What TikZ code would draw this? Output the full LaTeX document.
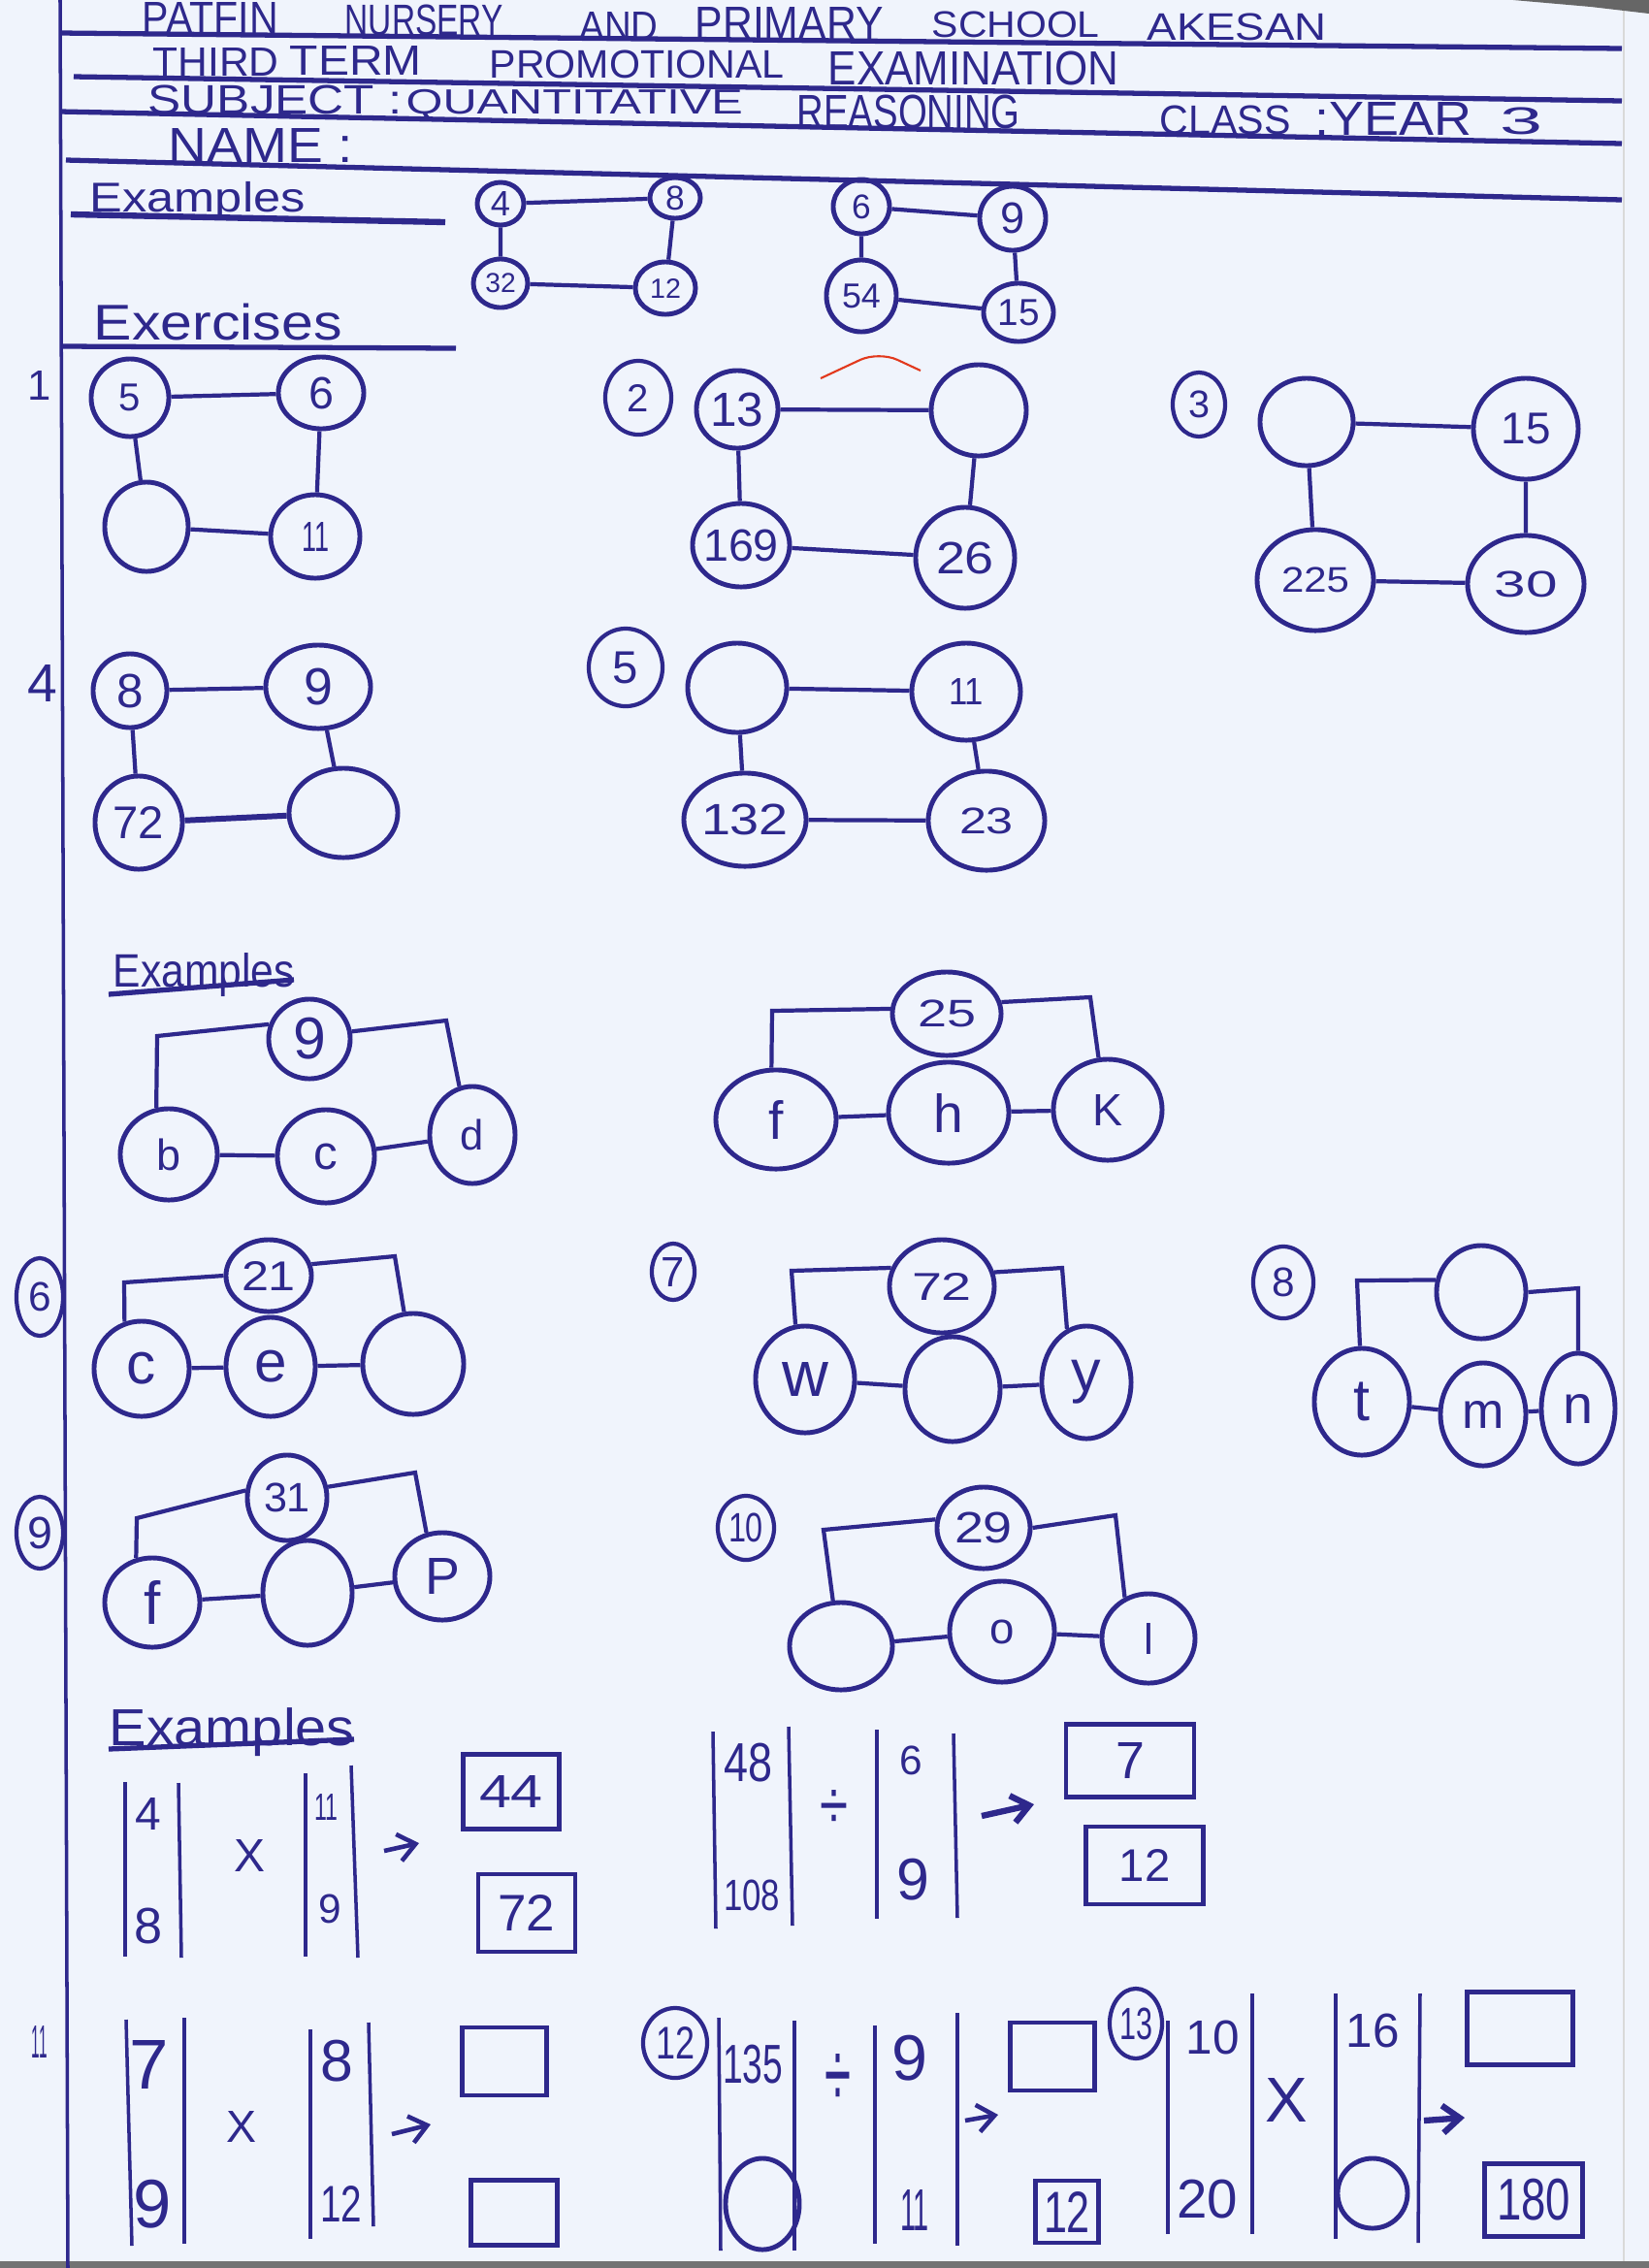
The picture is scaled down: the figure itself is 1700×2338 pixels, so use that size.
\documentclass[tikz,border=0pt]{standalone}
\usepackage{fontspec}
\setmainfont{Liberation Sans}
\usepackage{graphicx}
\usetikzlibrary{shapes.geometric,arrows.meta}
\definecolor{ink}{RGB}{46,40,140}
\definecolor{paper}{RGB}{240,244,252}
\newlength\hwu \setlength\hwu{0.01cm}
\newcommand\hw[2]{\resizebox*{!}{#1\hwu}{#2}}
\newcommand\hwb[3]{\resizebox*{#1\hwu}{#2\hwu}{#3}}
\newcommand\bubble[6]{\node[bub={#4}{#5}] (#1) at (#2,#3) {};\node[txt] (#1t) at (#1) {#6};}
\newcommand\ebubble[5]{\node[bub={#4}{#5}] (#1) at (#2,#3) {};}
\newcommand\lblb[6]{\node[lbl={#4}{#5}] (#1) at (#2,#3) {};\node[txt] (#1t) at (#1) {#6};}
\newcommand\hword[6]{\node[txt,anchor=south west] (#1) at (#2,#3) {\hwb{#4}{#5}{#6}};}
\tikzset{
 bub/.style 2 args={ellipse, draw=ink, line width=1.4pt, minimum width=#1*0.02cm, minimum height=#2*0.02cm, inner sep=0pt},
 lbl/.style 2 args={ellipse, draw=ink, line width=1.2pt, minimum width=#1*0.02cm, minimum height=#2*0.02cm, inner sep=0pt},
 txt/.style={inner sep=0pt, text=ink},
 lnk/.style={draw=ink, line width=1.2pt},
 bar/.style={draw=ink, line width=1.0pt},
 rulel/.style={draw=ink, line width=1.5pt},
 bx/.style 2 args={rectangle, draw=ink, line width=1.3pt, minimum width=#1*0.01cm, minimum height=#2*0.01cm, inner sep=0pt, text=ink},
 arr/.style={draw=ink, line width=1.3pt, -{Straight Barb[length=5pt,width=8pt]}},
}
\begin{document}
\begin{tikzpicture}[x=0.01cm,y=-0.01cm]
\fill[paper] (0,0) rectangle (1700,2338);
\useasboundingbox (0,0) rectangle (1700,2338);
% paper edges
\draw[black!15, line width=0.5pt] (1674,0) -- (1674,2338);
\fill[black!55] (0,2331) rectangle (1700,2338);
\fill[black!60] (1560,0) -- (1700,0) -- (1700,14) -- (1640,7) -- cycle;
% margin
\draw[bar] (62,0) -- (70,2338);
% header rules
\draw[rulel] (62,34) -- (1672,50);
\draw[rulel] (76,79) -- (1672,104);
\draw[rulel] (62,115) -- (1672,148);
\draw[rulel] (68,165) -- (1672,206);
% header words
\hword{hpatfin}{146}{35}{140}{32}{PATFIN}
\hword{hnursery}{355}{38}{163}{32}{NURSERY}
\hword{hand}{597}{42}{81}{29}{AND}
\hword{hprimary}{716}{41}{194}{33}{PRIMARY}
\hword{hschool}{960}{40}{173}{27}{SCHOOL}
\hword{hakesan}{1182}{43}{185}{28}{AKESAN}
\hword{hthird}{157}{79}{130}{29}{THIRD}
\hword{hterm}{298}{78}{136}{30}{TERM}
\hword{hpromo}{504}{82}{304}{29}{PROMOTIONAL}
\hword{hexam}{853}{89}{300}{35}{EXAMINATION}
\hword{hsubj}{152}{119}{262}{30}{SUBJECT :}
\hword{hquant}{418}{125}{347}{32}{QUANTITATIVE}
\hword{hreas}{821}{134}{230}{35}{REASONING}
\hword{hclass}{1195}{140}{135}{30}{CLASS}
\hword{hyear}{1355}{140}{162}{34}{:YEAR}
\hword{hthree}{1546}{140}{44}{28}{3}
\hword{hname}{173}{168}{190}{35}{NAME :}
% titles
\node[txt,anchor=north west] (exa) at (92,187) {\hwb{222}{40}{Examples}};
\draw[rulel, line width=1.8pt] (73,221) -- (459,229);
\node[txt,anchor=north west] (exc) at (96,312) {\hwb{256}{38}{Exercises}};
\draw[rulel] (65,357) -- (470,359);
% top examples
\bubble{ta}{516}{210}{24}{22}{\hw{25}{4}}
\bubble{tb}{696}{204}{26}{21}{\hw{25}{8}}
\bubble{tc}{516}{292}{28}{25}{\hw{20}{32}}
\bubble{td}{686}{297}{31}{27}{\hw{20}{12}}
\draw[lnk] (ta)--(tb) (ta)--(tc) (tb)--(td) (tc)--(td);
\bubble{te}{888}{213}{29}{28}{\hw{25}{6}}
\bubble{tf}{1044}{225}{34}{33}{\hw{32}{9}}
\bubble{tg}{888}{305}{36}{37}{\hw{25}{54}}
\bubble{th}{1050}{322}{36}{30}{\hw{27}{15}}
\draw[lnk] (te)--(tf) (te)--(tg) (tf)--(th) (tg)--(th);
% ex 1
\node[txt] (q1) at (41,397) {\hw{30}{1}};
\bubble{aa}{134}{410}{40}{40}{\hw{28}{5}}
\bubble{ab}{331}{405}{44}{37}{\hw{33}{6}}
\ebubble{ac}{151}{543}{43}{46}
\bubble{ad}{325}{553}{46}{43}{\hwb{28}{30}{11}}
\draw[lnk] (aa)--(ab) (aa)--(ac) (ab)--(ad) (ac)--(ad);
% ex 2
\lblb{q2}{658}{410}{34}{38}{\hw{28}{2}}
\bubble{ba}{760}{422}{42}{40}{\hw{35}{13}}
\ebubble{bb}{1009}{423}{49}{47}
\bubble{bc}{764}{562}{50}{43}{\hw{33}{169}}
\bubble{bd}{995}{575}{51}{52}{\hwb{60}{33}{26}}
\draw[lnk] (ba)--(bb) (ba)--(bc) (bb)--(bd) (bc)--(bd);
\draw[red!55!brown, line width=0.6pt, rounded corners=6pt] (846,390) -- (906,362) -- (949,382);
% ex 3
\lblb{q3}{1236}{417}{27}{33}{\hw{28}{3}}
\ebubble{ca}{1347}{435}{48}{45}
\bubble{cb}{1573}{442}{54}{52}{\hw{32}{15}}
\bubble{cc}{1356}{598}{60}{52}{\hwb{70}{26}{225}}
\bubble{cd}{1573}{602}{60}{50}{\hwb{65}{27}{30}}
\draw[lnk] (ca)--(cb) (ca)--(cc) (cb)--(cd) (cc)--(cd);
% ex 4
\node[txt] (q4) at (44,704) {\hw{38}{4}};
\bubble{da}{134}{712}{38}{38}{\hw{35}{8}}
\bubble{db}{328}{708}{54}{43}{\hw{38}{9}}
\bubble{dc}{143}{848}{45}{48}{\hw{33}{72}}
\ebubble{dd}{354}{838}{56}{46}
\draw[lnk] (da)--(db) (da)--(dc) (db)--(dd);
\draw[lnk, line width=1.7pt] (dc)--(dd);
% ex 5
\lblb{q5}{645}{688}{38}{40}{\hw{33}{5}}
\ebubble{ea}{760}{709}{51}{46}
\bubble{eb}{996}{713}{56}{50}{\hwb{36}{27}{11}}
\bubble{ec}{768}{845}{63}{48}{\hwb{90}{32}{132}}
\bubble{ed}{1017}{846}{60}{51}{\hwb{56}{27}{23}}
\draw[lnk] (ea)--(eb) (ea)--(ec) (eb)--(ed) (ec)--(ed);
% examples 2
\node[txt,anchor=north west] (exb) at (116,982) {\hwb{187}{45}{Examples}};
\draw[rulel] (112,1025) -- (303,1010);
% tree 1
\bubble{fa}{319}{1071}{42}{41}{\hw{43}{9}}
\bubble{fb}{174}{1190}{50}{47}{\hw{33}{b}}
\bubble{fc}{336}{1192}{50}{48}{\hw{27}{c}}
\bubble{fd}{487}{1170}{44}{50}{\hw{32}{d}}
\coordinate (fl) at (162,1068); \coordinate (fr) at (460,1052);
\draw[lnk] (fa.160) -- (fl) -- (fb.105);
\draw[lnk] (fa.10) -- (fr) -- (fd.105);
\draw[lnk] (fb)--(fc) (fc)--(fd);
% tree 2
\bubble{ga}{976}{1045}{56}{43}{\hwb{60}{28}{25}}
\bubble{gb}{800}{1154}{62}{51}{\hw{40}{f}}
\bubble{gc}{978}{1147}{62}{52}{\hw{40}{h}}
\bubble{gd}{1142}{1144}{56}{52}{\hw{32}{K}}
\coordinate (gl) at (796,1042); \coordinate (gr) at (1124,1028);
\draw[lnk] (ga.175) -- (gl) -- (gb.95);
\draw[lnk] (ga.12) -- (gr) -- (gd.100);
\draw[lnk] (gb)--(gc) (gc)--(gd);
% ex 6
\lblb{q6}{41}{1337}{24}{40}{\hw{30}{6}}
\bubble{ha}{277}{1315}{44}{37}{\hwb{56}{30}{21}}
\bubble{hb}{146}{1411}{49}{49}{\hw{33}{c}}
\bubble{hc}{279}{1409}{46}{51}{\hw{33}{e}}
\ebubble{hd}{426}{1406}{52}{52}
\coordinate (hl) at (128,1322); \coordinate (hr) at (407,1295);
\draw[lnk] (ha.west) -- (hl) -- (hb.110);
\draw[lnk] (ha.15) -- (hr) -- (hd.100);
\draw[lnk] (hb)--(hc) (hc)--(hd);
% ex 7
\lblb{q7}{694}{1311}{22}{29}{\hw{30}{7}}
\bubble{ia}{971}{1326}{54}{48}{\hwb{62}{28}{72}}
\bubble{ib}{830}{1422}{51}{55}{\hw{35}{w}}
\ebubble{ic}{982}{1432}{49}{54}
\bubble{id}{1120}{1425}{46}{58}{\hw{45}{y}}
\coordinate (il) at (816,1310); \coordinate (ir) at (1095,1307);
\draw[lnk] (ia.160) -- (il) -- (ib.100);
\draw[lnk] (ia.15) -- (ir) -- (id.110);
\draw[lnk] (ib)--(ic) (ic)--(id);
% ex 8
\lblb{q8}{1323}{1322}{31}{37}{\hw{30}{8}}
\ebubble{ja}{1527}{1332}{46}{48}
\bubble{jb}{1404}{1445}{49}{55}{\hw{40}{t}}
\bubble{jc}{1529}{1458}{44}{53}{\hw{28}{m}}
\bubble{jd}{1627}{1452}{38}{57}{\hw{30}{n}}
\coordinate (jl) at (1399,1320); \coordinate (jr) at (1627,1328);
\draw[lnk] (ja.165) -- (jl) -- (jb.92);
\draw[lnk] (ja.east) -- (jr) -- (jd.north);
\draw[lnk] (jb)--(jc) (jc)--(jd);
% ex 9
\lblb{q9}{41}{1580}{24}{37}{\hw{33}{9}}
\bubble{ka}{296}{1544}{41}{44}{\hwb{48}{30}{31}}
\bubble{kb}{157}{1652}{49}{46}{\hw{45}{f}}
\ebubble{kc}{317}{1642}{46}{54}
\bubble{kd}{456}{1625}{49}{45}{\hw{37}{P}}
\coordinate (kl) at (141,1565); \coordinate (kr) at (428,1518);
\draw[lnk] (ka.170) -- (kl) -- (kb.110);
\draw[lnk] (ka.15) -- (kr) -- (kd.110);
\draw[lnk] (kb)--(kc) (kc)--(kd);
% ex 10
\lblb{q10}{769}{1575}{29}{33}{\hwb{36}{30}{10}}
\bubble{la}{1014}{1575}{48}{42}{\hwb{60}{32}{29}}
\ebubble{lb}{867}{1697}{53}{45}
\bubble{lc}{1033}{1682}{54}{52}{\hw{25}{o}}
\bubble{ld}{1184}{1689}{48}{46}{\hw{32}{l}}
\coordinate (ll) at (849,1577); \coordinate (lr) at (1150,1562);
\draw[lnk] (la.170) -- (ll) -- (lb.100);
\draw[lnk] (la.east) -- (lr) -- (ld.120);
\draw[lnk] (lb)--(lc) (lc)--(ld);
% examples 3
\node[txt,anchor=north west] (exd) at (112,1760) {\hwb{253}{50}{Examples}};
\draw[rulel] (112,1803) -- (365,1793);
% multiplication example
\draw[bar] (129,1837) -- (129,2017);
\draw[bar] (184,1838) -- (187,2018);
\node[txt] (m1) at (153,1870) {\hw{33}{4}};
\node[txt] (m2) at (153,1985) {\hw{37}{8}};
\node[txt] (m3) at (257,1913) {\hw{33}{X}};
\draw[bar] (315,1828) -- (315,2017);
\draw[bar] (362,1820) -- (369,2018);
\node[txt] (m4) at (336,1863) {\hwb{24}{27}{11}};
\node[txt] (m5) at (340,1968) {\hw{30}{9}};
\coordinate (m6s) at (396,1908); \coordinate (m6e) at (432,1900);
\draw[arr] (m6s) -- (m6e);
\node[bx={99}{77}] (m7) at (527,1847) {\hwb{66}{33}{44}};
\node[bx={100}{80}] (m8) at (543,1972) {\hw{37}{72}};
% division example
\draw[bar] (735,1785) -- (738,1988);
\draw[bar] (813,1780) -- (817,1985);
\node[txt] (n1) at (771,1817) {\hwb{50}{40}{48}};
\node[txt] (n2) at (775,1954) {\hwb{58}{32}{108}};
\node[txt] (n3) at (860,1865) {\hwb{29}{40}{÷}};
\draw[bar] (904,1783) -- (904,1978);
\draw[bar] (983,1787) -- (987,1977);
\node[txt] (n4) at (939,1815) {\hw{30}{6}};
\node[txt] (n5) at (941,1938) {\hw{43}{9}};
\coordinate (n6s) at (1012,1872); \coordinate (n6e) at (1066,1860);
\draw[arr, line width=1.8pt] (n6s) -- (n6e);
\node[bx={132}{75}] (n7) at (1165,1815) {\hw{37}{7}};
\node[bx={121}{80}] (n8) at (1180,1923) {\hw{33}{12}};
% ex 11
\node[txt] (o0) at (41,2105) {\hwb{16}{33}{11}};
\draw[bar] (130,2082) -- (136,2315);
\draw[bar] (190,2080) -- (190,2313);
\node[txt] (o1) at (154,2128) {\hw{50}{7}};
\node[txt] (o2) at (157,2272) {\hw{50}{9}};
\node[txt] (o3) at (249,2192) {\hw{32}{X}};
\draw[bar] (320,2092) -- (320,2308);
\draw[bar] (380,2085) -- (385,2295);
\node[txt] (o4) at (347,2125) {\hw{43}{8}};
\node[txt] (o5) at (352,2272) {\hwb{43}{37}{12}};
\coordinate (o6s) at (404,2200); \coordinate (o6e) at (444,2190);
\draw[arr] (o6s) -- (o6e);
\node[bx={87}{70}] (o7) at (520,2125) {};
\node[bx={89}{67}] (o8) at (530,2281) {};
% ex 12
\lblb{p0}{696}{2106}{33}{36}{\hwb{40}{33}{12}}
\draw[bar] (741,2080) -- (743,2320);
\draw[bar] (819,2083) -- (819,2320);
\node[txt] (p1) at (776,2128) {\hwb{62}{40}{135}};
\ebubble{p2}{786}{2272}{38}{47}
\node[txt] (p3) at (864,2145) {\hwb{27}{55}{÷}};
\draw[bar] (902,2088) -- (902,2313);
\draw[bar] (987,2075) -- (987,2315);
\node[txt] (p4) at (938,2122) {\hw{47}{9}};
\node[txt] (p5) at (943,2278) {\hwb{30}{42}{11}};
\coordinate (p6s) at (995,2186); \coordinate (p6e) at (1029,2180);
\draw[arr] (p6s) -- (p6e);
\node[bx={87}{70}] (p7) at (1085,2120) {};
\node[bx={65}{64}] (p8) at (1100,2280) {\hwb{48}{42}{12}};
% ex 13
\lblb{r0}{1171}{2086}{27}{36}{\hwb{34}{33}{13}}
\node[txt] (r1) at (1250,2100) {\hw{35}{10}};
\node[txt] (r2) at (1245,2267) {\hw{40}{20}};
\draw[bar] (1204,2083) -- (1204,2303);
\draw[bar] (1291,2055) -- (1291,2303);
\node[txt] (r3) at (1326,2165) {\hw{45}{X}};
\draw[bar] (1377,2055) -- (1377,2308);
\draw[bar] (1464,2055) -- (1462,2312);
\node[txt] (r4) at (1415,2093) {\hw{35}{16}};
\ebubble{r5}{1415}{2261}{36}{36}
\coordinate (r6s) at (1468,2186); \coordinate (r6e) at (1510,2183);
\draw[arr, line width=1.8pt] (r6s) -- (r6e);
\node[bx={109}{75}] (r7) at (1567,2091) {};
\node[bx={101}{75}] (r8) at (1581,2268) {\hwb{76}{43}{180}};
\end{tikzpicture}
\end{document}
